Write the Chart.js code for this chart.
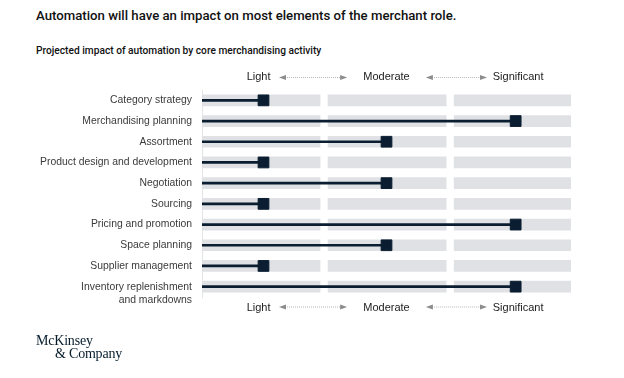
<!DOCTYPE html>
<html>
<head>
<meta charset="utf-8">
<script src="https://cdn.jsdelivr.net/npm/chart.js@4"></script>
<style>
  body { margin: 0; background: #fff; }
  #wrap { position: relative; width: 624px; height: 378px; overflow: hidden; }
  #wrap canvas { position: absolute; left: 0; top: 0; }
  .title { position: absolute; left: 36px; top: 8px; font: 500 13.2px/16px Roboto, sans-serif; color: #111; white-space: nowrap; }
  .subtitle { position: absolute; left: 36px; top: 44px; font: 500 10.2px/13px Roboto, sans-serif; color: #111; white-space: nowrap; }
  .logo { position: absolute; left: 36px; top: 334px; font: 14px/13px "Liberation Serif", serif; color: #051c2c; letter-spacing: -0.2px; }
  .logo span { display: block; }
  .logo span + span { padding-left: 19px; }
</style>
</head>
<body>
<div id="wrap">
  <div class="title">Automation will have an impact on most elements of the merchant role.</div>
  <div class="subtitle">Projected impact of automation by core merchandising activity</div>
  <div style="position:absolute;left:0;top:0;width:624px;height:378px"><canvas id="impact"></canvas></div>
  <div class="logo"><span>McKinsey</span><span>&amp; Company</span></div>
</div>
<script>
// rows, top to bottom
const activities = [
  'Category strategy',
  'Merchandising planning',
  'Assortment',
  'Product design and development',
  'Negotiation',
  'Sourcing',
  'Pricing and promotion',
  'Space planning',
  'Supplier management',
  ['Inventory replenishment', 'and markdowns']
]

// impact, on a 0-3 scale (light / moderate / significant)
const impact = [0.5, 2.55, 1.5, 0.5, 1.5, 0.5, 2.55, 1.5, 0.5, 2.55]

const levelNames = ['Light', 'Moderate', 'Significant']
const levelTicks = [0.46, 1.5, 2.57]
const levelBands = [[0, 0.96], [1.025, 1.985], [2.05, 3]]

const NAVY = '#0b1e31'
const BAND = '#dfe1e4'

// blank first line so the first text line sits on the row
const rowLabels = activities.map(a => Array.isArray(a) ? [''].concat(a) : a)

const bandSets = levelBands.map(b => ({
  type: 'bar',
  data: activities.map(() => b),
  backgroundColor: BAND,
  barThickness: 11,
  grouped: false,
  order: 3
}))

// little dotted double arrows between the level names
const arrowPlugin = {
  id: 'levelArrows',
  afterDraw(chart) {
    const ctx = chart.ctx
    const xs = chart.scales.x
    const area = chart.chartArea
    const spans = [[0.626, 1.18], [1.82, 2.317]]
    const rowsY = [area.top - 13, area.bottom + 9.5]
    ctx.save()
    rowsY.forEach(y => {
      spans.forEach(s => {
        const x0 = xs.getPixelForValue(s[0])
        const x1 = xs.getPixelForValue(s[1])
        ctx.strokeStyle = '#b8b8b8'
        ctx.lineWidth = 1
        ctx.setLineDash([1, 1])
        ctx.beginPath()
        ctx.moveTo(x0 + 6, y + 0.5)
        ctx.lineTo(x1 - 6, y + 0.5)
        ctx.stroke()
        ctx.setLineDash([])
        ctx.fillStyle = '#8c8c8c'
        ctx.beginPath()
        ctx.moveTo(x0, y + 0.5)
        ctx.lineTo(x0 + 7, y - 2)
        ctx.lineTo(x0 + 7, y + 3)
        ctx.closePath()
        ctx.fill()
        ctx.beginPath()
        ctx.moveTo(x1, y + 0.5)
        ctx.lineTo(x1 - 7, y - 2)
        ctx.lineTo(x1 - 7, y + 3)
        ctx.closePath()
        ctx.fill()
      })
    })
    ctx.restore()
  }
}

const levelAxis = (pos, height, pad) => ({
  type: 'linear',
  position: pos,
  min: 0,
  max: 3,
  grid: { display: false, drawTicks: false },
  border: { display: false },
  afterBuildTicks: scale => { scale.ticks = levelTicks.map(v => ({ value: v })) },
  afterFit: scale => { scale.height = height },
  ticks: {
    autoSkip: false,
    maxRotation: 0,
    padding: pad,
    color: '#222',
    font: { family: 'Liberation Sans, Arial, sans-serif', size: 11 },
    callback: v => levelNames[levelTicks.indexOf(v)]
  }
})

const canvas = document.getElementById('impact').getContext('2d')

const impactChart = new Chart(canvas, {
  type: 'bar',
  data: {
    labels: rowLabels,
    datasets: [
      ...bandSets,
      {
        type: 'bar',
        data: impact.map(v => [0, v]),
        backgroundColor: NAVY,
        barThickness: 2,
        grouped: false,
        order: 2
      },
      {
        type: 'line',
        indexAxis: 'y',
        data: impact,
        showLine: false,
        pointStyle: 'rect',
        pointRadius: 7.6,
        pointBackgroundColor: NAVY,
        pointBorderColor: NAVY,
        pointBorderWidth: 1,
        order: 1
      }
    ]
  },
  options: {
    indexAxis: 'y',
    responsive: true,
    maintainAspectRatio: false,
    animation: false,
    layout: { padding: { left: 0, right: 53, top: 0, bottom: 0 } },
    scales: {
      x: levelAxis('top', 90, 6),
      x2: levelAxis('bottom', 81, 4),
      y: {
        type: 'category',
        offset: true,
        grid: { display: false, drawTicks: false },
        border: { display: true, color: '#e4e4e4', width: 1 },
        afterFit: scale => { scale.width = 202 },
        ticks: {
          padding: 10,
          color: '#3a3a3a',
          autoSkip: false,
          font: { family: 'Liberation Sans, Arial, sans-serif', size: 10.4, lineHeight: 1.3 }
        }
      }
    },
    plugins: {
      legend: { display: false },
      tooltip: { enabled: false }
    }
  },
  plugins: [arrowPlugin]
})
</script>
</body>
</html>
